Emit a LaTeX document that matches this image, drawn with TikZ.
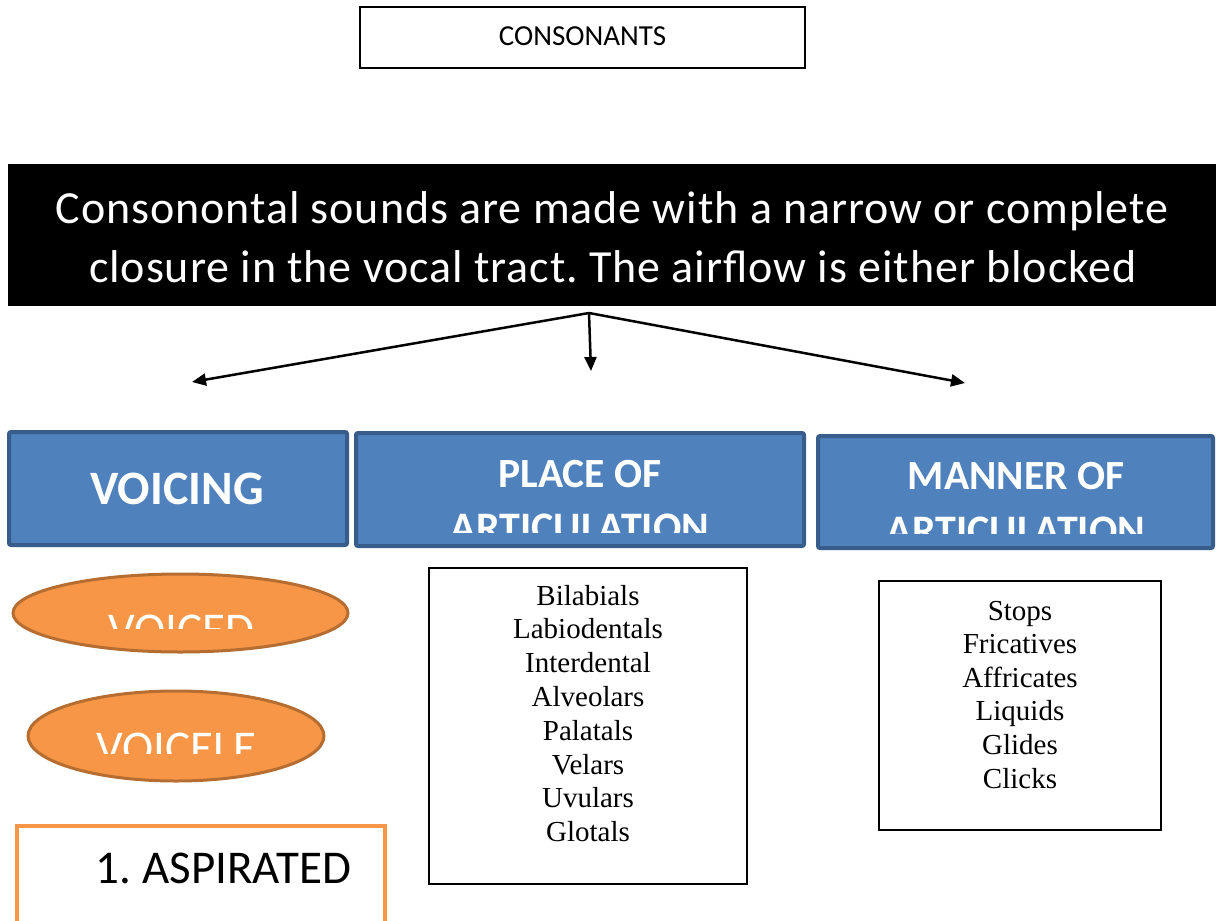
\documentclass[tikz,border=0pt]{standalone}
\usepackage{fontspec}
\newfontfamily\calfont{Carlito}
\newfontfamily\calwide[LetterSpace=2.0]{Carlito}
\newfontfamily\serfont{Liberation Serif}
\usetikzlibrary{shapes.geometric,arrows.meta}
\frenchspacing
\definecolor{blueF}{HTML}{4F81BD}
\definecolor{blueD}{HTML}{385D8A}
\definecolor{orF}{HTML}{F79646}
\definecolor{orD}{HTML}{B66D31}
\tikzset{
  plainbox/.style={draw=black, line width=1.5pt, fill=white, inner sep=0pt},
  bluebox/.style={draw=blueD, fill=blueF, line width=4pt, rounded corners=2pt, inner sep=0pt},
  ovalbox/.style={ellipse, draw=orD, fill=orF, line width=3pt, inner sep=0pt},
  bluetext/.style={text=white, inner sep=0pt, anchor=base},
  listtext/.style={inner sep=0pt, anchor=base, font=\serfont\fontsize{29}{33}\selectfont},
  conn/.style={line width=2.5pt, -{Triangle[length=14pt,width=12pt]}}
}
\begin{document}
\begin{tikzpicture}[x=1pt,y=-1pt]
\clip (0,0) rectangle (1216,921);
\fill[white] (0,0) rectangle (1216,921);

% title
\node[plainbox, minimum width=445pt, minimum height=61pt] (cons) at (582.5,37.5) {};
\node[inner sep=0pt, anchor=base, font=\calfont\fontsize{29}{34}\selectfont] (constext) at (582.5,45) {CONSONANTS};

% description
\node[fill=black, draw=none, minimum width=1208pt, minimum height=142pt, inner sep=0pt] (desc) at (612,235) {};
\node[bluetext, font=\calwide\fontsize{46}{52}\selectfont] (d1) at (612,223) {Consonontal sounds are made with a narrow or complete};
\node[bluetext, font=\calwide\fontsize{46}{52}\selectfont] (d2) at (613,282) {closure in the vocal tract. The airflow is either blocked};

% arrows
\coordinate (src) at (589,313);
\coordinate (tl) at (192,382);
\coordinate (tm) at (591,371);
\coordinate (tr) at (965,383);
\draw[conn] (src) -- (tl);
\draw[conn] (src) -- (tm);
\draw[conn] (src) -- (tr);

% blue headers
\node[bluebox, minimum width=338pt, minimum height=113pt] (voicing) at (178,488.5) {};
\node[bluebox, minimum width=448pt, minimum height=113pt] (place) at (580,489.5) {};
\node[bluebox, minimum width=395pt, minimum height=112pt] (manner) at (1015.5,492) {};

\node[bluetext, font=\calfont\bfseries\fontsize{48}{56}\selectfont] (voicingt) at (177,504) {VOICING};
\node[bluetext, font=\calfont\bfseries\fontsize{41.5}{48}\selectfont] (placet) at (580,487) {PLACE OF};
\node[bluetext, font=\calfont\bfseries\fontsize{41.5}{48}\selectfont] (mannert) at (1016,489) {MANNER OF};
\begin{scope}
  \clip (360,500) rectangle (800,532);
  \node[bluetext, font=\calfont\bfseries\fontsize{42}{48}\selectfont] (placet2) at (580,541) {ARTICULATION};
\end{scope}
\begin{scope}
  \clip (822,500) rectangle (1209,533);
  \node[bluetext, font=\calfont\bfseries\fontsize{42}{48}\selectfont] (mannert2) at (1016,544) {ARTICULATION};
\end{scope}

% ovals
\node[ovalbox, minimum width=335pt, minimum height=78pt] (voiced) at (180.5,613) {};
\node[ovalbox, minimum width=296pt, minimum height=90pt] (voiceless) at (176,736) {};
\begin{scope}
  \clip (20,600) rectangle (340,628);
  \node[bluetext, font=\calfont\fontsize{47}{56}\selectfont] (voicedt) at (181,645) {VOICED};
\end{scope}
\begin{scope}
  \clip (30,715) rectangle (320,753);
  \node[bluetext, font=\calfont\fontsize{47}{56}\selectfont] (voicelesst) at (176.5,763) {VOICELE};
\end{scope}

% aspirated
\node[draw=orF, fill=white, line width=4pt, minimum width=368pt, minimum height=160pt, inner sep=0pt, anchor=north west] (asp) at (15,824) {};
\node[inner sep=0pt, anchor=base, font=\calfont\fontsize{47}{56}\selectfont] (aspt) at (223.5,883) {1. ASPIRATED};

% place list
\node[plainbox, minimum width=318pt, minimum height=316pt] (plist) at (588,726) {};
\foreach \t [count=\i from 0] in {Bilabials,Labiodentals,Interdental,Alveolars,Palatals,Velars,Uvulars,Glotals}
  \node[listtext] (pl\i) at (588,605+33.8*\i) {\t};

% manner list
\node[plainbox, minimum width=282pt, minimum height=249pt] (mlist) at (1020,705.5) {};
\foreach \t [count=\i from 0] in {Stops,Fricatives,Affricates,Liquids,Glides,Clicks}
  \node[listtext] (ml\i) at (1020,620+33.6*\i) {\t};
\end{tikzpicture}
\end{document}
